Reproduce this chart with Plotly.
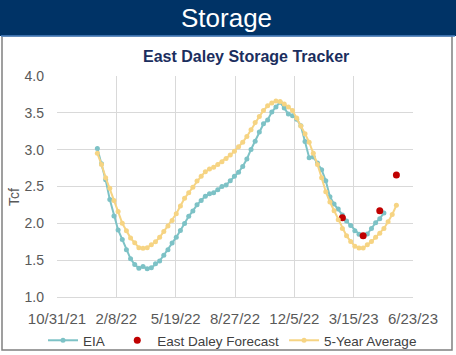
import datetime as dt
import plotly.graph_objects as go

# ---- data (Tcf) ----
eia_start = "2022-01-07"
eia_values = [
    3.015, 2.809, 2.590, 2.322, 2.100, 1.911, 1.782, 1.643, 1.519, 1.440,
    1.389, 1.415, 1.382, 1.397, 1.450, 1.490, 1.567, 1.643, 1.732, 1.812,
    1.902, 1.999, 2.095, 2.169, 2.251, 2.311, 2.369, 2.401, 2.416, 2.457,
    2.501, 2.519, 2.579, 2.640, 2.694, 2.771, 2.874, 3.003, 3.115, 3.240,
    3.351, 3.403, 3.510, 3.580, 3.644, 3.564, 3.483, 3.462, 3.412, 3.325,
    3.112, 2.891,
    2.902, 2.820, 2.729, 2.578, 2.361, 2.261, 2.195, 2.114, 2.030, 1.972,
    1.900, 1.853, 1.830, 1.855, 1.930, 2.009, 2.063, 2.141,
]

avg_start = "2022-01-07"
avg_values = [
    2.95, 2.80, 2.62, 2.475, 2.31, 2.16, 2.00, 1.90, 1.80, 1.735,
    1.67, 1.663, 1.67, 1.71, 1.75, 1.81, 1.89, 1.965, 2.04, 2.13,
    2.235, 2.34, 2.415, 2.49, 2.574, 2.64, 2.70, 2.736, 2.76, 2.80,
    2.835, 2.88, 2.926, 2.98, 3.04, 3.10, 3.18, 3.27, 3.37, 3.45,
    3.53, 3.595, 3.635, 3.66, 3.655, 3.62, 3.58, 3.53, 3.43, 3.32,
    3.215, 3.10,
    2.95, 2.80, 2.62, 2.43, 2.29, 2.17, 2.05, 1.93, 1.83, 1.755,
    1.69, 1.665, 1.665, 1.708, 1.752, 1.81, 1.866, 1.93, 2.02, 2.12,
    2.245,
]

forecast_dates = ["2023-02-24", "2023-03-31", "2023-04-28", "2023-05-26"]
forecast_values = [2.077, 1.833, 2.17, 2.655]

x_tick_dates = ["2021-10-31", "2022-02-08", "2022-05-19", "2022-08-27",
                "2022-12-05", "2023-03-15", "2023-06-23"]
x_tick_labels = ["10/31/21", "2/8/22", "5/19/22", "8/27/22",
                 "12/5/22", "3/15/23", "6/23/23"]
y_ticks = [1.0, 1.5, 2.0, 2.5, 3.0, 3.5, 4.0]


def weekly(start, n):
    d0 = dt.date.fromisoformat(start)
    return [(d0 + dt.timedelta(days=7 * i)).isoformat() for i in range(n)]


eia_dates = weekly(eia_start, len(eia_values))
avg_dates = weekly(avg_start, len(avg_values))

TEAL = "#7DC2C6"
YELLOW = "#F6D483"
RED = "#C00000"
NAVY = "#003366"
FONT = "Liberation Sans, Arial, sans-serif"
NB = "\u00a0"

fig = go.Figure()
fig.add_trace(go.Scatter(
    x=eia_dates, y=eia_values, name="EIA" + NB * 2, mode="lines+markers",
    line=dict(color=TEAL, width=2), marker=dict(color=TEAL, size=5),
))
fig.add_trace(go.Scatter(
    x=forecast_dates, y=forecast_values, name="East Daley Forecast",
    mode="markers", marker=dict(color=RED, size=7),
))
fig.add_trace(go.Scatter(
    x=avg_dates, y=avg_values, name="5-Year Average", mode="lines+markers",
    line=dict(color=YELLOW, width=2), marker=dict(color=YELLOW, size=5),
))

W, H = 456, 355
L, R, T, B = 57, 43, 76, 58
pw, ph = W - L - R, H - T - B


def px(x):
    return (x - L) / pw


def py(y):
    return (H - B - y) / ph


shapes = [
    # outer border of white panel
    dict(type="rect", xref="paper", yref="paper",
         x0=px(2), x1=px(452), y0=py(350), y1=py(36),
         line=dict(color="#808080", width=1.5), fillcolor="rgba(0,0,0,0)",
         layer="below"),
    # header bar
    dict(type="rect", xref="paper", yref="paper",
         x0=px(0), x1=px(456), y0=py(36), y1=py(0),
         line=dict(width=0), fillcolor=NAVY, layer="below"),
    # thin light-blue line under header
    dict(type="line", xref="paper", yref="paper",
         x0=px(1), x1=px(455), y0=py(36), y1=py(36),
         line=dict(color="#4F86C6", width=1.5)),
]

annotations = [
    dict(text="Storage", x=px(226), y=py(18), xref="paper", yref="paper",
         showarrow=False, xanchor="center", yanchor="middle",
         font=dict(family=FONT, size=26, color="white")),
    dict(text="<b>East Daley Storage Tracker</b>", x=px(246), y=py(56),
         xref="paper", yref="paper", showarrow=False,
         xanchor="center", yanchor="middle",
         font=dict(family=FONT, size=16, color="#1B2E5E")),
    dict(text="Tcf", x=px(14), y=py(197), xref="paper", yref="paper",
         showarrow=False, textangle=-90, xanchor="center", yanchor="middle",
         font=dict(family=FONT, size=14, color="#595959")),
]

fig.update_layout(
    width=W, height=H,
    margin=dict(l=L, r=R, t=T, b=B, pad=0, autoexpand=False),
    paper_bgcolor="white", plot_bgcolor="white",
    shapes=shapes, annotations=annotations,
    showlegend=True,
    legend=dict(orientation="h", x=px(43), xanchor="left",
                y=py(325), yanchor="top",
                font=dict(family=FONT, size=13.5, color="#404040"),
                bgcolor="rgba(0,0,0,0)", itemwidth=30),
    xaxis=dict(
        type="date", range=[x_tick_dates[0], x_tick_dates[-1]],
        tickmode="array", tickvals=x_tick_dates, ticktext=x_tick_labels,
        tickangle=0, showgrid=True, gridcolor="#D9D9D9", gridwidth=1,
        showline=True, linecolor="#D9D9D9", zeroline=False,
        ticks="", ticklabelstandoff=8, automargin=False,
        tickfont=dict(family=FONT, size=15, color="#595959"),
    ),
    yaxis=dict(
        range=[1.0, 4.0], tickmode="array", tickvals=y_ticks,
        tickformat=".1f", showgrid=True, gridcolor="#D9D9D9", gridwidth=1,
        zeroline=False, showline=False, ticks="", ticklabelstandoff=12,
        automargin=False,
        tickfont=dict(family=FONT, size=14, color="#595959"),
    ),
)

fig.write_html("out.html",
               config={"displayModeBar": False},
               post_script="document.body.style.margin='0';"
                           "document.body.style.overflow='hidden';")
